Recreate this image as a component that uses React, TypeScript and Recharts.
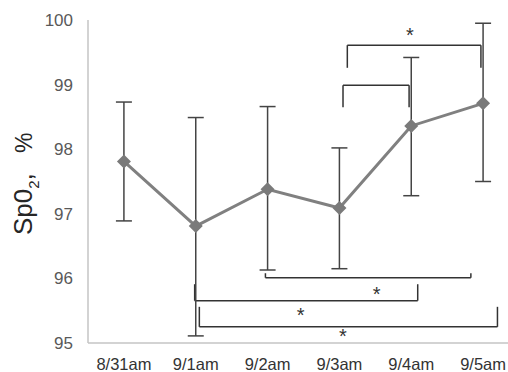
import React from 'react';
import {
  ComposedChart,
  Line,
  XAxis,
  YAxis,
  ErrorBar,
  ReferenceLine,
  Scatter,
} from 'recharts';

const categories = ['8/31am', '9/1am', '9/2am', '9/3am', '9/4am', '9/5am'];
const means = [97.81, 96.81, 97.38, 97.09, 98.36, 98.71];
const upper = [98.73, 98.49, 98.66, 98.02, 99.42, 99.95];
const lower = [96.89, 95.11, 96.13, 96.15, 97.28, 97.5];
const yTicks = [95, 96, 97, 98, 99, 100];

// significance brackets: x in category index units, y in SpO2 units
const topBrackets = [
  { x1: 3.11, x2: 4.97, y: 99.61, tip: 99.26 },
  { x1: 3.05, x2: 3.97, y: 98.99, tip: 98.65 },
];
const bottomBrackets = [
  { x1: 1.97, x2: 4.83, y: 96.01, tip: 96.08 },
  { x1: 0.985, x2: 4.09, y: 95.655, tip: 95.91 },
  { x1: 1.05, x2: 5.2, y: 95.25, tip: 95.56 },
];
const stars = [
  { x: 3.98, y: 99.81 },
  { x: 3.52, y: 95.805 },
  { x: 2.46, y: 95.48 },
  { x: 3.05, y: 95.155 },
];

const data = categories.map((c, i) => ({
  x: i,
  name: c,
  mean: means[i],
  err: [means[i] - lower[i], upper[i] - means[i]],
}));

const brackets = [...topBrackets, ...bottomBrackets];

const Diamond = (props: any) => {
  const { cx, cy } = props;
  if (cx == null || cy == null) return null;
  const r = 7;
  return (
    <polygon
      points={`${cx},${cy - r} ${cx + r},${cy} ${cx},${cy + r} ${cx - r},${cy}`}
      fill="#7a7a7a"
    />
  );
};

const Star = (props: any) => {
  const { cx, cy } = props;
  return (
    <text x={cx} y={cy + 10} textAnchor="middle" fontSize={20} fill="#333" fontFamily="Liberation Sans, Arial, sans-serif">
      *
    </text>
  );
};

const YLabel = () => (
  <g fontFamily="Liberation Sans, Arial, sans-serif" fill="#262626">
    <text transform="translate(32,235) rotate(-90)" fontSize={26} textAnchor="start">
      Sp0
      <tspan fontSize={15} dy={7}>2</tspan>
      <tspan fontSize={26} dy={-7}>,</tspan>
    </text>
    <text transform="translate(32,153) rotate(-90)" fontSize={23} textAnchor="start">
      %
    </text>
  </g>
);

export default function App() {
  return (
    <div style={{ position: 'absolute', left: 0, top: 0, width: 508, height: 372, overflow: 'hidden', background: '#fff' }}>
      <ComposedChart
        width={530}
        height={372}
        data={data}
        margin={{ top: 20, right: 11, bottom: 0, left: 0 }}
      >
        <XAxis
          type="number"
          dataKey="x"
          domain={[-0.5, 5.5]}
          ticks={[0, 1, 2, 3, 4, 5]}
          tickFormatter={(v: number) => categories[v]}
          axisLine={{ stroke: '#c4c4c4', strokeWidth: 1.5 }}
          tickLine={false}
          tickSize={0}
          tickMargin={15}
          height={29}
          interval={0}
          tick={{ fill: '#333', fontSize: 16.5, fontFamily: 'Liberation Sans, Arial, sans-serif' }}
        />
        <YAxis
          type="number"
          domain={[95, 100]}
          ticks={yTicks}
          width={88}
          axisLine={{ stroke: '#c4c4c4', strokeWidth: 1.5 }}
          tickLine={false}
          tickSize={0}
          tickMargin={15}
          tick={{ fill: '#595959', fontSize: 17, fontFamily: 'Liberation Sans, Arial, sans-serif' }}
        />
        {brackets.map((b, i) => (
          <ReferenceLine
            key={`h${i}`}
            segment={[{ x: b.x1, y: b.y }, { x: b.x2, y: b.y }]}
            stroke="#333"
            strokeWidth={1.5}
          />
        ))}
        {brackets.map((b, i) => (
          <ReferenceLine
            key={`l${i}`}
            segment={[{ x: b.x1, y: b.y }, { x: b.x1, y: b.tip }]}
            stroke="#333"
            strokeWidth={1.5}
          />
        ))}
        {brackets.map((b, i) => (
          <ReferenceLine
            key={`r${i}`}
            segment={[{ x: b.x2, y: b.y }, { x: b.x2, y: b.tip }]}
            stroke="#333"
            strokeWidth={1.5}
          />
        ))}
        <Line
          dataKey="mean"
          stroke="#808080"
          strokeWidth={3}
          dot={<Diamond />}
          activeDot={false}
          isAnimationActive={false}
        >
          <ErrorBar dataKey="err" direction="y" width={8} stroke="#444" strokeWidth={1.5} />
        </Line>
        <Scatter data={stars} dataKey="y" shape={<Star />} isAnimationActive={false} />
        <YLabel />
      </ComposedChart>
    </div>
  );
}
